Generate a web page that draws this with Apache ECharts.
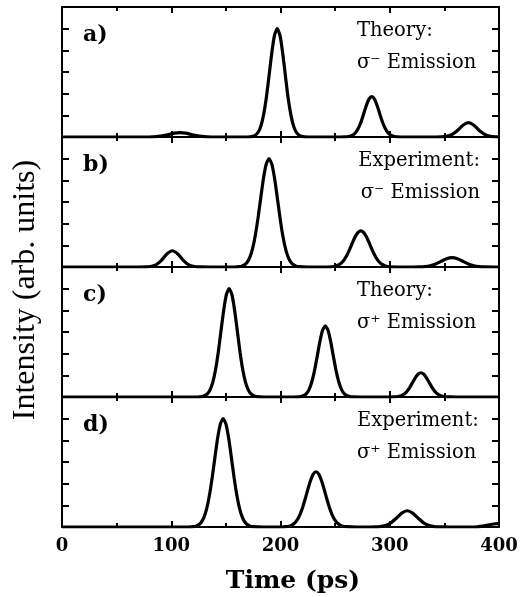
<!DOCTYPE html>
<html>
<head>
<meta charset="utf-8">
<script src="https://cdn.jsdelivr.net/npm/echarts@6/dist/echarts.min.js"></script>
<style>
  html, body { margin: 0; padding: 0; background: #fff; }
  #chart { width: 521px; height: 597px; }
</style>
</head>
<body>
<div id="chart"></div>
<script>
// ---- Data (time in ps, intensity in arb. units; panel scale 0..6) ----
const xTicks = [0, 100, 200, 300, 400];
const panelLabels = ['a)', 'b)', 'c)', 'd)'];
const panelLine1 = ['Theory:', 'Experiment:', 'Theory:', 'Experiment:'];
const panelLine2 = ['σ⁻ Emission', 'σ⁻ Emission', 'σ⁺ Emission', 'σ⁺ Emission'];

const theoryMinus = [
  [0,0],[80,0],[83,0.009],[88,0.027],[93,0.065],[98,0.121],[103,0.176],[108,0.2],[113,0.176],[118,0.121],[123,0.065],[128,0.027],[133,0.009],[140,0],[170,0],
  [172,0.008],[174.5,0.029],[177,0.085],[179.5,0.22],[182,0.50],[184.5,1.02],[187,1.80],[189.5,2.82],[192,3.88],[194.5,4.69],[197,5.0],[199.5,4.69],[202,3.88],[204.5,2.82],[207,1.80],[209.5,1.02],[212,0.50],[214.5,0.22],[217,0.085],[219.5,0.029],[222,0.008],[230,0],[255,0],
  [258.5,0.003],[261,0.011],[263.5,0.031],[266,0.082],[268.5,0.187],[271,0.378],[273.5,0.670],[276,1.047],[278.5,1.441],[281,1.745],[283.5,1.86],[286,1.745],[288.5,1.441],[291,1.047],[293.5,0.670],[296,0.378],[298.5,0.187],[301,0.082],[303.5,0.031],[306,0.011],[308.5,0.003],[315,0],[342,0],
  [347,0.005],[352,0.029],[357,0.114],[362,0.302],[367,0.543],[372,0.66],[377,0.543],[382,0.302],[387,0.114],[392,0.029],[397,0.005],[400,0.002]
];

const experimentMinus = [
  [0,0],[72,0],[76,0.003],[81,0.021],[86,0.101],[91,0.308],[96,0.601],[101,0.75],[106,0.601],[111,0.308],[116,0.101],[121,0.021],[126,0.003],[135,0],[158,0],
  [162,0.014],[164.5,0.038],[167,0.096],[169.5,0.22],[172,0.457],[174.5,0.86],[177,1.475],[179.5,2.29],[182,3.22],[184.5,4.115],[187,4.76],[189.5,5.0],[192,4.76],[194.5,4.115],[197,3.22],[199.5,2.29],[202,1.475],[204.5,0.86],[207,0.457],[209.5,0.22],[212,0.096],[214.5,0.038],[217,0.014],[225,0],[242,0],
  [246,0.009],[248.5,0.022],[251,0.050],[253.5,0.105],[256,0.200],[258.5,0.352],[261,0.566],[263.5,0.837],[266,1.132],[268.5,1.404],[271,1.600],[273.5,1.67],[276,1.600],[278.5,1.404],[281,1.132],[283.5,0.837],[286,0.566],[288.5,0.352],[291,0.200],[293.5,0.105],[296,0.050],[298.5,0.022],[301,0.009],[310,0],[322,0],
  [327,0.005],[332,0.019],[337,0.058],[342,0.140],[347,0.261],[352,0.379],[357,0.43],[362,0.379],[367,0.261],[372,0.140],[377,0.058],[382,0.019],[387,0.005],[395,0],[400,0]
];

const theoryPlus = [
  [0,0],[124,0],[128,0.02],[130.5,0.056],[133,0.143],[135.5,0.329],[138,0.675],[140.5,1.245],[143,2.055],[145.5,3.035],[148,4.005],[150.5,4.73],[153,5.0],[155.5,4.73],[158,4.005],[160.5,3.035],[163,2.055],[165.5,1.245],[168,0.675],[170.5,0.329],[173,0.143],[175.5,0.056],[178,0.02],[185,0],[212,0],
  [216,0.006],[218.5,0.019],[221,0.055],[223.5,0.144],[226,0.330],[228.5,0.666],[231,1.181],[233.5,1.847],[236,2.542],[238.5,3.077],[241,3.28],[243.5,3.077],[246,2.542],[248.5,1.847],[251,1.181],[253.5,0.666],[256,0.330],[258.5,0.144],[261,0.055],[263.5,0.019],[266,0.006],[275,0],[300,0],
  [303.5,0.004],[306,0.012],[308.5,0.032],[311,0.074],[313.5,0.151],[316,0.279],[318.5,0.460],[321,0.680],[323.5,0.897],[326,1.060],[328.5,1.12],[331,1.060],[333.5,0.897],[336,0.680],[338.5,0.460],[341,0.279],[343.5,0.151],[346,0.074],[348.5,0.032],[351,0.012],[353.5,0.004],[360,0],[400,0]
];

const experimentPlus = [
  [0,0],[116,0],[120,0.014],[122.5,0.038],[125,0.096],[127.5,0.22],[130,0.457],[132.5,0.86],[135,1.475],[137.5,2.29],[140,3.22],[142.5,4.115],[145,4.76],[147.5,5.0],[150,4.76],[152.5,4.115],[155,3.22],[157.5,2.29],[160,1.475],[162.5,0.86],[165,0.457],[167.5,0.22],[170,0.096],[172.5,0.038],[175,0.014],[185,0],[201,0],
  [205,0.014],[207.5,0.034],[210,0.077],[212.5,0.160],[215,0.306],[217.5,0.538],[220,0.864],[222.5,1.278],[225,1.729],[227.5,2.145],[230,2.443],[232.5,2.55],[235,2.443],[237.5,2.145],[240,1.729],[242.5,1.278],[245,0.864],[247.5,0.538],[250,0.306],[252.5,0.160],[255,0.077],[257.5,0.034],[260,0.014],[270,0],[282,0],
  [286,0.003],[291,0.016],[296,0.064],[301,0.187],[306,0.404],[311,0.643],[316,0.75],[321,0.643],[326,0.404],[331,0.187],[336,0.064],[341,0.016],[346,0.003],[355,0],[375,0],[380,0.01],[385,0.04],[390,0.09],[395,0.14],[400,0.17]
];

const panelSeries = [theoryMinus, experimentMinus, theoryPlus, experimentPlus];

// ---- Layout ----
const GL = 62, GR = 22, GT = 7, GH = 130;
const SERIF = '"DejaVu Serif", "Liberation Serif", serif';

const grids = [], xAxes = [], yAxes = [], series = [], graphics = [];
for (let i = 0; i < 4; i++) {
  grids.push({ left: GL, right: GR, top: GT + i * GH, height: GH, containLabel: false });
  const isLast = i === 3;
  const xBase = {
    type: 'value', gridIndex: i, min: 0, max: 400, interval: 100,
    axisLine: { show: true, onZero: false, lineStyle: { color: '#000', width: 2 } },
    axisTick: { show: true, inside: true, length: 6, lineStyle: { color: '#000', width: 2 } },
    minorTick: { show: true, splitNumber: 2, length: 4, lineStyle: { color: '#000', width: 2 } },
    splitLine: { show: false }, minorSplitLine: { show: false }
  };
  xAxes.push(Object.assign({}, xBase, {
    position: 'bottom',
    axisLabel: isLast ? { show: true, color: '#000', fontFamily: SERIF, fontWeight: 'bold', fontSize: 18, margin: 10,
      formatter: v => (xTicks.indexOf(v) >= 0 ? String(v) : '') } : { show: false }
  }));
  xAxes.push(Object.assign({}, xBase, { position: 'top', axisLabel: { show: false } }));
  const yBase = {
    type: 'value', gridIndex: i, min: 0, max: 6, interval: 1,
    axisLine: { show: true, onZero: false, lineStyle: { color: '#000', width: 2 } },
    axisTick: { show: true, inside: true, length: 7, lineStyle: { color: '#000', width: 2 } },
    axisLabel: { show: false }, splitLine: { show: false }
  };
  yAxes.push(Object.assign({}, yBase, { position: 'left' }));
  yAxes.push(Object.assign({}, yBase, { position: 'right' }));
  series.push({
    type: 'line', xAxisIndex: 2 * i, yAxisIndex: 2 * i, data: panelSeries[i],
    showSymbol: false, symbol: 'none', smooth: 0.2,
    lineStyle: { color: '#000', width: 3.2 }, silent: true, animation: false
  });

  const top = GT + i * GH;
  graphics.push({ type: 'text', x: 83, y: top + 28,
    style: { text: panelLabels[i], font: 'bold 22px ' + SERIF, fill: '#000', verticalAlign: 'middle', align: 'left' } });
  const rightAligned = (i === 1);
  graphics.push({ type: 'text', x: rightAligned ? 480 : 357, y: top + 24,
    style: { text: panelLine1[i], font: '19.5px ' + SERIF, fill: '#000', verticalAlign: 'middle', align: rightAligned ? 'right' : 'left' } });
  graphics.push({ type: 'text', x: rightAligned ? 480 : 357, y: top + 56,
    style: { text: panelLine2[i], font: '19.5px ' + SERIF, fill: '#000', verticalAlign: 'middle', align: rightAligned ? 'right' : 'left' } });
}

graphics.push({ type: 'text', x: 293, y: 581,
  style: { text: 'Time (ps)', font: 'bold 25px ' + SERIF, fill: '#000', align: 'center', verticalAlign: 'middle' } });
graphics.push({ type: 'text', x: 26, y: 290, rotation: Math.PI / 2,
  style: { text: 'Intensity (arb. units)', font: '32px "Liberation Serif", serif', fill: '#000', align: 'center', verticalAlign: 'middle' } });

const chart = echarts.init(document.getElementById('chart'), null, { renderer: 'canvas' });
chart.setOption({
  animation: false,
  backgroundColor: '#fff',
  grid: grids, xAxis: xAxes, yAxis: yAxes, series: series, graphic: graphics
});
</script>
</body>
</html>
